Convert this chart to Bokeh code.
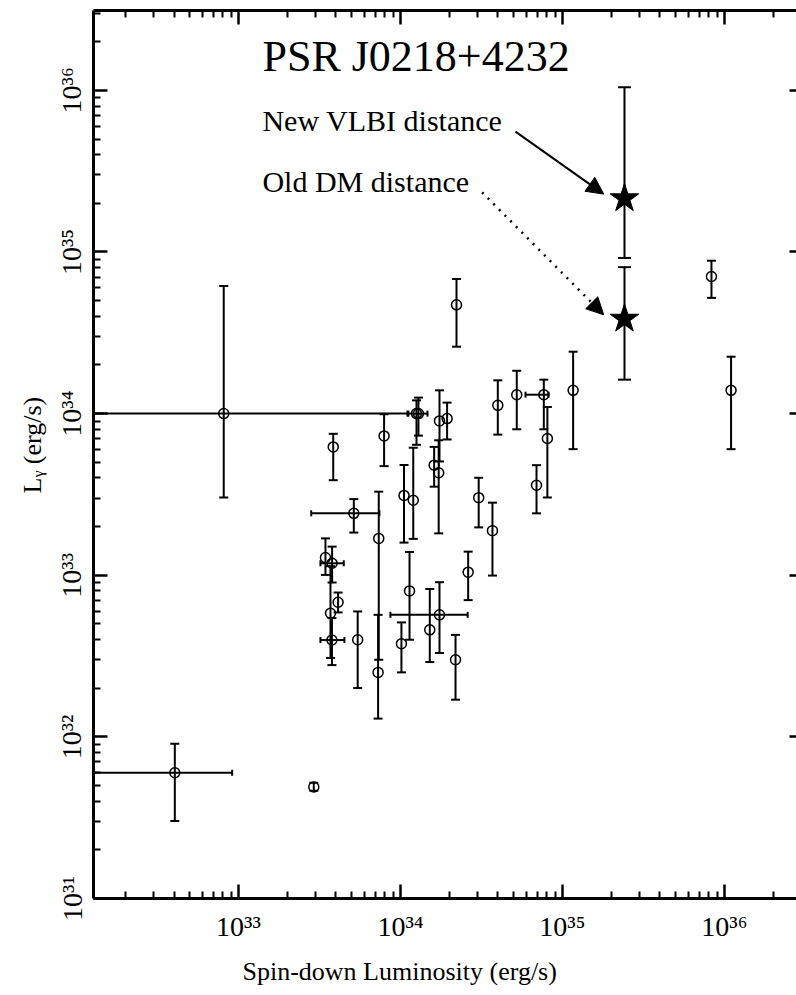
import numpy as np
from bokeh.plotting import figure
from bokeh.models import (Range1d, LogAxis, FixedTicker, CustomJSTickFormatter,
                          Label, Arrow, NormalHead, Title)
from bokeh.embed import file_html
from bokeh.resources import INLINE

# ---- data (log10 of erg/s) ----
# spin-down luminosity (x) and gamma luminosity (y) with error-bar ends
edot = [32.909, 34.111, 34.099, 33.585, 33.899, 33.712, 33.866, 33.862, 34.022, 34.079,
        34.241, 34.288, 34.208, 34.236, 34.601, 34.718, 34.885, 34.907, 35.066, 34.840,
        34.483, 34.568, 34.418, 34.056, 34.241, 34.181, 34.006, 34.340, 33.736, 33.537,
        33.578, 33.615, 33.568, 33.577, 33.465, 32.607, 34.346, 35.920, 36.041]
lgam = [34.000, 34.000, 34.000, 33.794, 33.862, 33.383, 33.228, 32.399, 33.494, 33.464,
        33.955, 33.969, 33.681, 33.634, 34.051, 34.117, 34.117, 33.846, 34.144, 33.557,
        33.480, 33.276, 33.019, 32.903, 32.755, 32.662, 32.576, 32.477, 32.601, 33.109,
        33.074, 32.833, 32.765, 32.599, 31.690, 31.778, 34.673, 34.848, 34.144]
lgam_hi = [34.790, 34.099, 34.082, 33.875, 33.996, 33.471, 33.517, 32.755, 33.682, 33.789,
           34.144, 34.068, 33.794, 33.835, 34.206, 34.265, 34.210, 34.041, 34.383, 33.681,
           33.603, 33.449, 33.146, 33.144, 32.957, 32.915, 32.708, 32.631, 32.776, 33.228,
           33.177, 32.893, 33.056, 32.735, 31.716, 31.957, 34.833, 34.946, 34.352]
lgam_lo = [33.481, 33.864, 33.807, 33.588, 33.675, 33.264, 32.477, 32.113, 33.202, 33.225,
           33.704, 33.840, 33.548, 33.259, 33.870, 33.903, 33.903, 33.481, 33.780, 33.383,
           33.296, 32.998, 32.846, 32.601, 32.519, 32.463, 32.399, 32.230, 32.302, 33.002,
           32.955, 32.770, 32.488, 32.444, 31.667, 31.480, 34.414, 34.716, 33.780]
# points that also have horizontal error bars
xerr_edot = [32.909, 34.111, 33.712, 34.885, 34.241, 33.578, 33.577, 32.607]
xerr_lgam = [34.000, 34.000, 33.383, 34.117, 32.755, 33.074, 32.599, 31.778]
xerr_lo = [31.900, 34.049, 33.449, 34.772, 33.938, 33.506, 33.506, 31.900]
xerr_hi = [34.043, 34.167, 33.870, 34.914, 34.415, 33.650, 33.654, 32.961]

# PSR J0218+4232: new VLBI distance, old DM distance
star_edot = [35.383, 35.383]
star_lgam = [35.331, 34.586]
star_hi = [36.019, 34.906]
star_lo = [34.963, 34.210]

x_major = [33, 34, 35, 36]
y_major = [31, 32, 33, 34, 35, 36]

# ---- build ----
def p10(a):
    return list(10.0 ** np.asarray(a, dtype=float))

FONT = "Liberation Serif"

p = figure(width=796, height=995, x_axis_type="log", y_axis_type="log",
           x_range=Range1d(10 ** 32.105, 10 ** 36.445),
           y_range=Range1d(1e31, 10 ** 36.494),
           output_backend="svg", toolbar_location=None,
           min_border_left=93, min_border_right=0, min_border_top=10, min_border_bottom=95)
p.grid.visible = False
p.outline_line_color = None
p.background_fill_color = "white"
p.border_fill_color = "white"

xmaj = p10(x_major)
xmin = [m * 10.0 ** k for k in range(32, 37) for m in range(2, 10)]
ymaj = p10(y_major)
ymin = [m * 10.0 ** k for k in range(31, 37) for m in range(2, 10)]

fmt = CustomJSTickFormatter(code="""
const sup = {"0":"\u2070","1":"\u00b9","2":"\u00b2","3":"\u00b3","4":"\u2074","5":"\u2075","6":"\u2076","7":"\u2077","8":"\u2078","9":"\u2079","-":"\u207b"};
const e = Math.round(Math.log10(tick));
return "10" + String(e).split("").map(c => sup[c]).join("");
""")
blank = CustomJSTickFormatter(code="return '';")

def style_axis(ax, maj, mn, labels=True):
    ax.ticker = FixedTicker(ticks=maj, minor_ticks=mn)
    ax.axis_line_width = 3
    ax.axis_line_color = "black"
    ax.major_tick_in = 14
    ax.major_tick_out = 0
    ax.minor_tick_in = 7
    ax.minor_tick_out = 0
    ax.major_tick_line_width = 2.5
    ax.minor_tick_line_width = 2
    ax.major_tick_line_color = "black"
    ax.minor_tick_line_color = "black"
    if labels:
        ax.formatter = fmt
        ax.major_label_text_font = FONT
        ax.major_label_text_font_size = "28px"
        ax.major_label_text_color = "black"
    else:
        ax.formatter = blank
        ax.major_label_text_font_size = "0px"
        ax.major_label_standoff = 0

xb = p.below[0]
style_axis(xb, xmaj, xmin)
xb.major_label_standoff = 12
yl = p.left[0]
style_axis(yl, ymaj, ymin)
yl.major_label_standoff = 6
yl.major_label_orientation = "vertical"

xt = LogAxis()
style_axis(xt, xmaj, xmin, labels=False)
p.add_layout(xt, "above")
yr = LogAxis()
style_axis(yr, ymaj, [], labels=False)
yr.axis_line_color = None
yr.major_tick_in = 7
p.add_layout(yr, "right")

# axis titles
p.add_layout(Title(text="Spin-down Luminosity (erg/s)", align="left", offset=149,
                   text_font=FONT, text_font_size="26px", text_font_style="normal",
                   text_color="black", standoff=20), "below")
p.add_layout(Title(text="L\u1d67 (erg/s)", align="left", offset=405,
                   text_font=FONT, text_font_size="26px", text_font_style="normal",
                   text_color="black", standoff=14), "left")

# vertical error bars
p.segment(x0=p10(edot), y0=p10(lgam_lo), x1=p10(edot), y1=p10(lgam_hi),
          line_color="black", line_width=2)
p.scatter(x=p10(edot + edot), y=p10(lgam_lo + lgam_hi), marker="dash", size=9,
          line_color="black", line_width=2)
# horizontal error bars
p.segment(x0=p10(xerr_lo), y0=p10(xerr_lgam), x1=p10(xerr_hi), y1=p10(xerr_lgam),
          line_color="black", line_width=2)
p.scatter(x=p10(xerr_lo + xerr_hi), y=p10(xerr_lgam + xerr_lgam), marker="dash", size=6,
          angle=np.pi / 2, line_color="black", line_width=2)
# points
p.scatter(x=p10(edot), y=p10(lgam), marker="circle", size=10, fill_color=None,
          line_color="black", line_width=1.5)

# stars with error bars
p.segment(x0=p10(star_edot), y0=p10(star_lo), x1=p10(star_edot), y1=p10(star_hi),
          line_color="black", line_width=2)
p.scatter(x=p10(star_edot + star_edot), y=p10(star_lo + star_hi), marker="dash", size=13,
          line_color="black", line_width=2)
p.scatter(x=p10(star_edot), y=p10(star_lgam), marker="star", size=30,
          fill_color="black", line_color="black")

# annotations
p.add_layout(Label(x=10 ** 33.148, y=10 ** 36.055, text="PSR J0218+4232",
                   text_font=FONT, text_font_size="44px", text_color="black"))
p.add_layout(Label(x=10 ** 33.148, y=10 ** 35.71, text="New VLBI distance",
                   text_font=FONT, text_font_size="30px", text_color="black"))
p.add_layout(Label(x=10 ** 33.148, y=10 ** 35.335, text="Old DM distance",
                   text_font=FONT, text_font_size="30px", text_color="black"))

tip_dx = -0.128
p.add_layout(Arrow(x_start=10 ** 34.71, y_start=10 ** 35.745,
                   x_end=10 ** (star_edot[0] + tip_dx), y_end=10 ** (star_lgam[0] + 0.027),
                   line_color="black", line_width=2,
                   end=NormalHead(size=17, fill_color="black", line_color="black", line_width=1)))
p.add_layout(Arrow(x_start=10 ** 34.504, y_start=10 ** 35.369,
                   x_end=10 ** (star_edot[1] + tip_dx), y_end=10 ** (star_lgam[1] + 0.025),
                   line_color="black", line_width=2.5, line_dash="2 6",
                   end=NormalHead(size=17, fill_color="black", line_color="black", line_width=1)))

open("out.html", "w").write(file_html(p, INLINE))
